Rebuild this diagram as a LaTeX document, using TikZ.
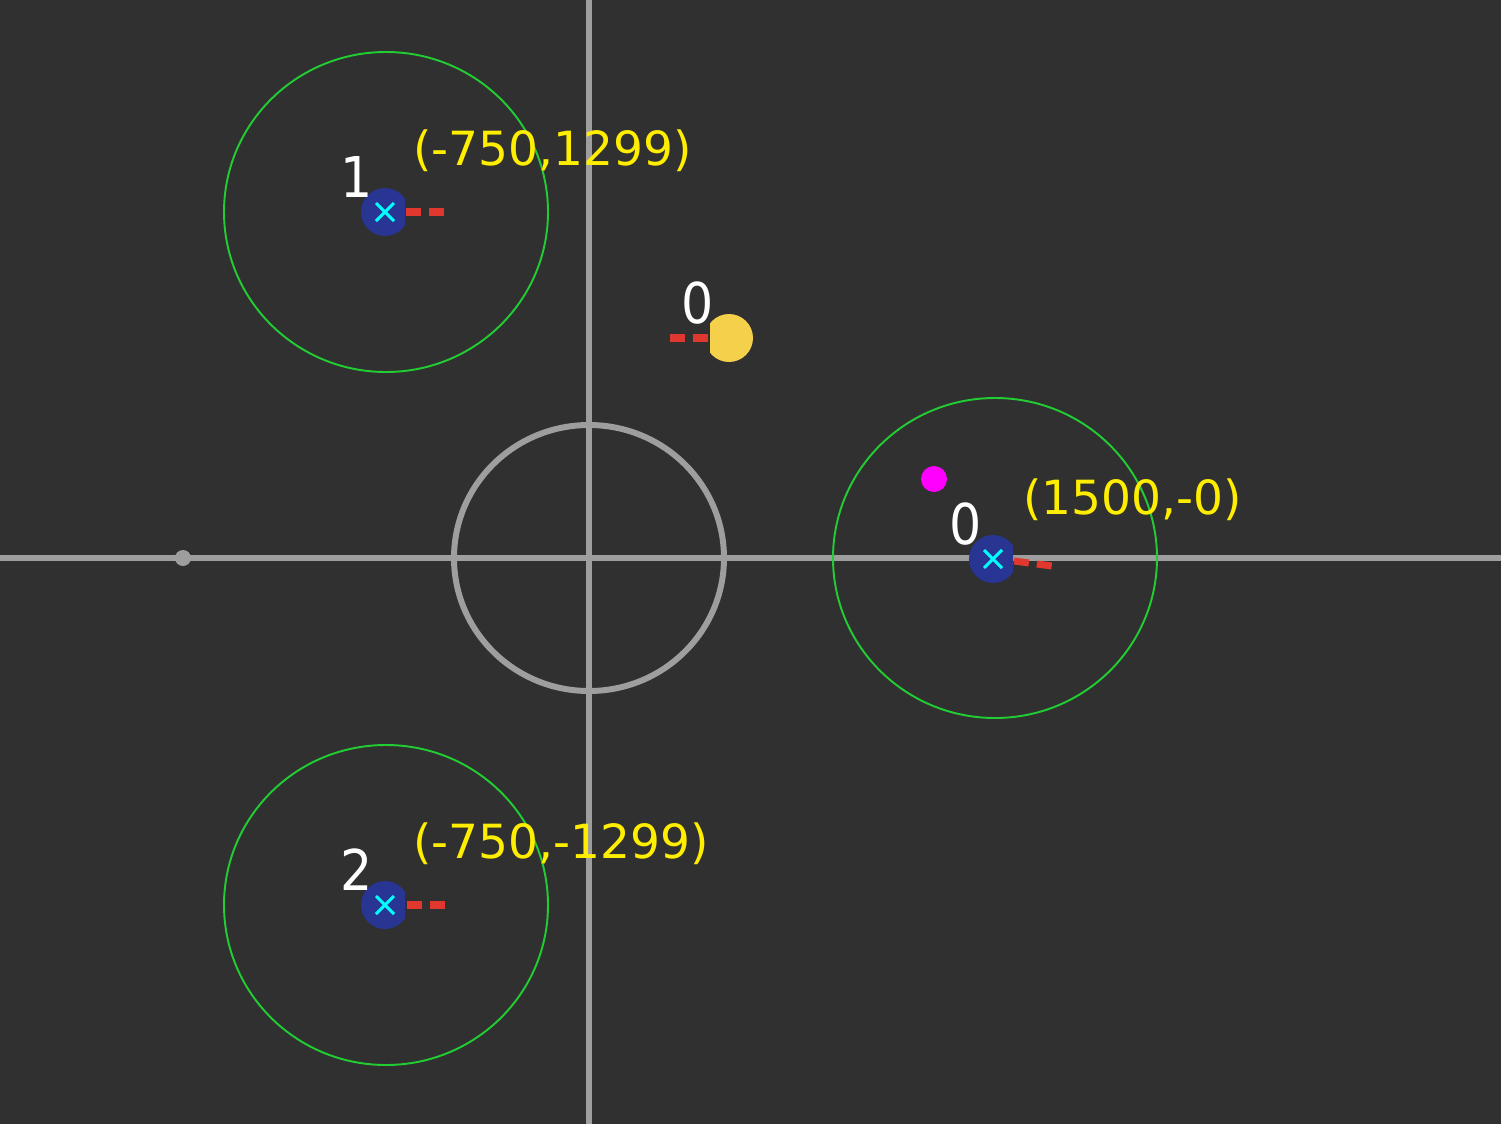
\documentclass[tikz,border=0pt]{standalone}
\usepackage{fontspec}
\setmainfont{DejaVu Sans}
\newfontfamily\labelfont{DejaVu Sans Condensed}
\usepackage{tikz}
\usetikzlibrary{calc}

\definecolor{bgdark}{HTML}{303030}
\definecolor{axisgray}{HTML}{9E9E9E}
\definecolor{rangegreen}{HTML}{22CC33}
\definecolor{botblue}{HTML}{283593}
\definecolor{headred}{HTML}{E0382E}
\definecolor{coordyellow}{HTML}{FFEE00}
\definecolor{ballyellow}{HTML}{F5D04A}
\definecolor{markcyan}{HTML}{00FFFF}
\definecolor{targetpink}{HTML}{FF00FF}

\begin{document}
\begin{tikzpicture}[
    x=0.2mm, y=-0.2mm,
    fieldline/.style={draw=axisgray,line width=3.4pt},
    sensorring/.style={draw=rangegreen,line width=1.1pt},
    heading/.style={draw=headred,line width=4pt,dash pattern=on 3mm off 1.6mm},
    markx/.style={draw=markcyan,line width=1.7pt},
    idlabel/.style={text=white,font=\labelfont\fontsize{32}{32}\selectfont,inner sep=0pt},
    poslabel/.style={text=coordyellow,font=\fontsize{26.8}{27}\selectfont,inner sep=0pt,anchor=base west}
  ]
  % background
  \fill[bgdark] (0,0) rectangle (1501,1124);
  \useasboundingbox (0,0) rectangle (1501,1124);

  % field
  \coordinate (origin) at (589,558);
  \draw[fieldline] (0,558) -- (1501,558);
  \draw[fieldline] (589,0) -- (589,1124);
  \draw[fieldline] (origin) ellipse [x radius=135, y radius=133];
  \fill[axisgray] (183,558) circle [radius=8];

  % robots
  \coordinate (r1) at (385,212);
  \coordinate (r0) at (993,559);
  \coordinate (r2) at (385,905);
  \draw[sensorring] (386,212) ellipse [x radius=162, y radius=160];
  \draw[sensorring] (995,558) ellipse [x radius=162, y radius=160];
  \draw[sensorring] (386,905) ellipse [x radius=162, y radius=160];

  \foreach \r in {r1,r0,r2}{
    \begin{scope}
      \clip ($(\r)+(-30,-30)$) rectangle ($(\r)+(20,30)$);
      \fill[botblue] (\r) circle [radius=24];
    \end{scope}
    \draw[markx] ($(\r)+(-9,-9)$) -- ($(\r)+(9,9)$);
    \draw[markx] ($(\r)+(-9,9)$) -- ($(\r)+(9,-9)$);
  }

  \coordinate (h1) at (444,212);
  \coordinate (h0) at (1052,566);
  \coordinate (h2) at (445,905);
  \draw[heading] ($(r1)+(21,0)$) -- (h1);
  \draw[heading] ($(r0)+(21,2)$) -- (h0);
  \draw[heading] ($(r2)+(22,0)$) -- (h2);

  \node[idlabel] (id1) at (357,177) {1};
  \node[idlabel] (id0) at (966,524) {0};
  \node[idlabel] (id2) at (357,870) {2};

  \node[poslabel] (pos1) at (413,165) {(-750,1299)};
  \node[poslabel] (pos0) at (1023,514) {(1500,-0)};
  \node[poslabel] (pos2) at (413,858) {(-750,-1299)};

  % ball
  \coordinate (ball) at (729,338);
  \begin{scope}
    \clip (710,300) rectangle (770,380);
    \fill[ballyellow] (ball) circle [radius=24];
  \end{scope}
  \coordinate (bh) at (670,338);
  \draw[heading] (708,338) -- (bh);
  \node[idlabel] (ballid) at (698,303) {0};

  % target
  \fill[targetpink] (934,479) circle [radius=13];
\end{tikzpicture}
\end{document}
